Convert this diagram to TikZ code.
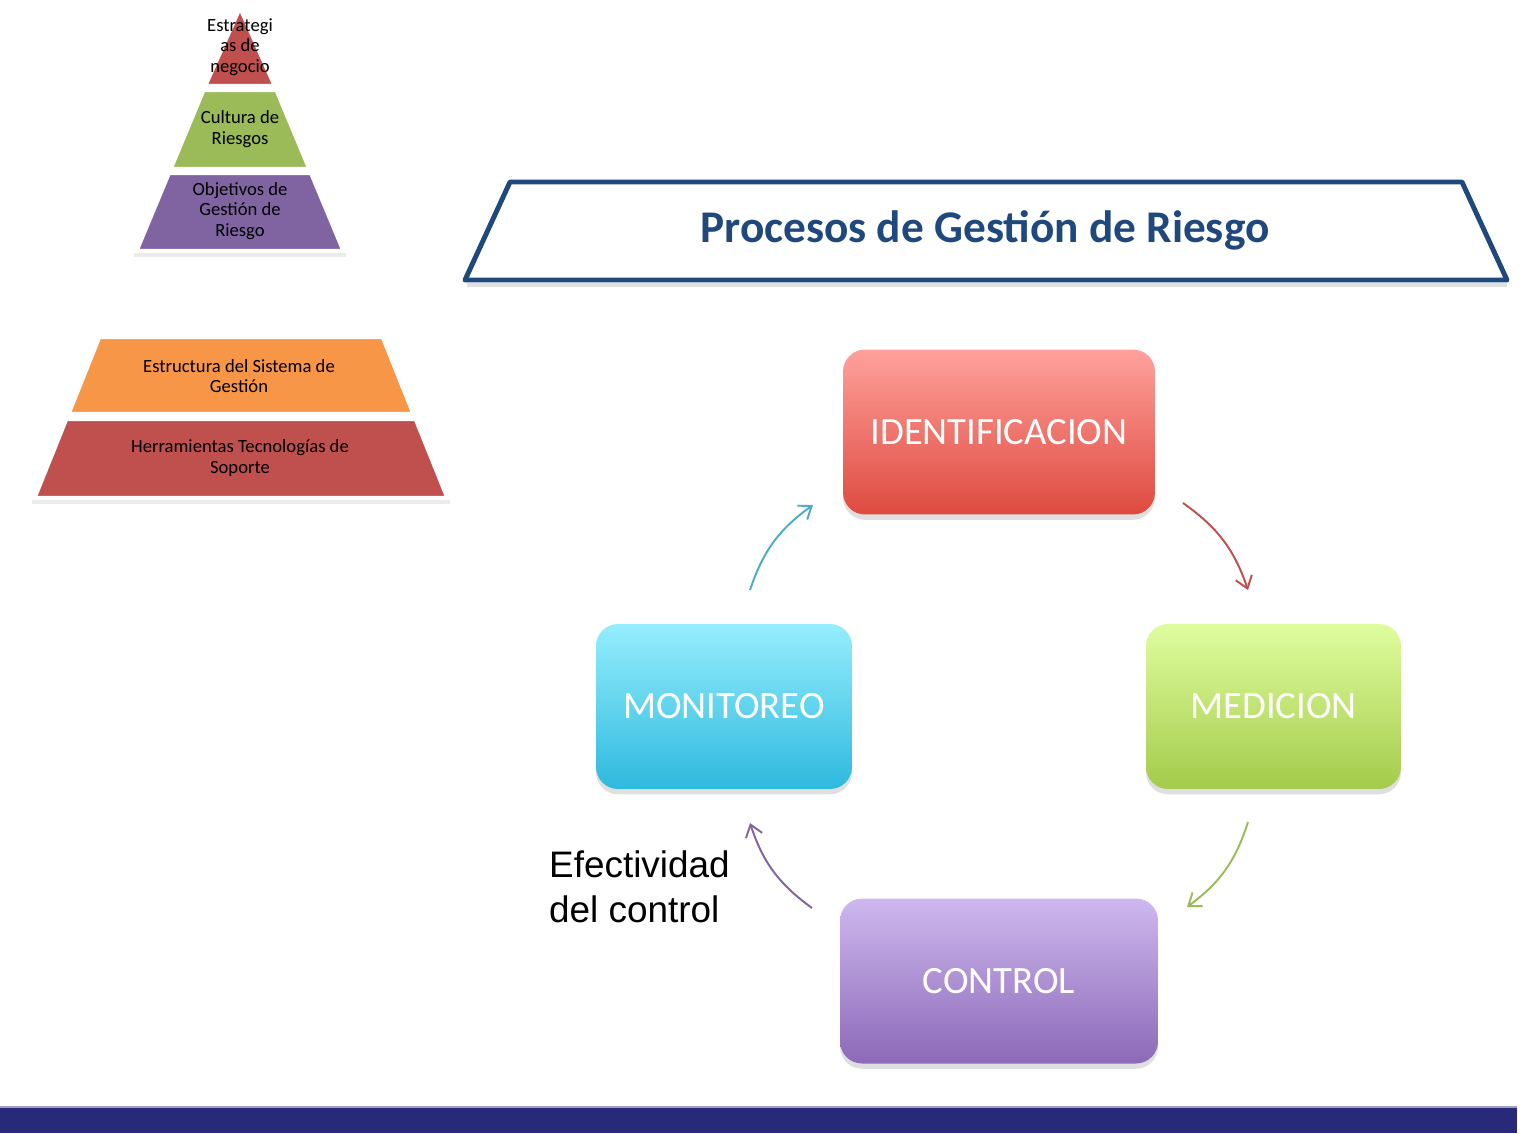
\documentclass[tikz,border=0pt]{standalone}
\usepackage{fontspec}
\setmainfont{Carlito}
\newfontfamily\arialfont{Liberation Sans}
\usetikzlibrary{positioning}
\usetikzlibrary{arrows.meta, shadows}

\definecolor{rojoCapa}{HTML}{C0504D}
\definecolor{verdeCapa}{HTML}{9BBB59}
\definecolor{moradoCapa}{HTML}{8064A2}
\definecolor{naranjaCapa}{HTML}{F79646}
\definecolor{azulTitulo}{HTML}{1F497D}
\definecolor{azulBarra}{HTML}{29297A}
\definecolor{cianFlecha}{HTML}{4BACC6}
\definecolor{idTop}{HTML}{FFA19C}
\definecolor{idBot}{HTML}{DE4A3F}
\definecolor{medTop}{HTML}{DFFD9F}
\definecolor{medBot}{HTML}{A4CB4A}
\definecolor{monTop}{HTML}{95EEFD}
\definecolor{monBot}{HTML}{2EB9DE}
\definecolor{conTop}{HTML}{CEB8EF}
\definecolor{conBot}{HTML}{8C69B7}

\begin{document}
\begin{tikzpicture}[x=0.02cm,y=-0.02cm,
  paso/.style={rounded corners=0.44cm,minimum height=3.3cm,text=white,
    font=\fontsize{22}{26}\selectfont,
    drop shadow={shadow xshift=0pt,shadow yshift=-3pt,opacity=0.25}},
  capa/.style={draw=white,line width=1.2pt},
  capatxt/.style={align=center,text=black,font=\fontsize{10.6}{11.6}\selectfont},
  ciclo/.style={line width=1.1pt,bend left=18,
    -{Straight Barb[length=0.23cm,width=0.34cm]}}
]
\useasboundingbox (0,0) rectangle (1531,1133);
\fill[white] (0,0) rectangle (1531,1133);

% piramide de arriba
\draw[black!8,line width=2pt] (134,255) -- (346,255);
\draw[capa,fill=rojoCapa] (240,10) -- (273.3,85) -- (206.7,85) -- cycle;
\draw[capa,fill=verdeCapa] (204.2,91) -- (275.8,91) -- (307.9,168) -- (172.1,168) -- cycle;
\draw[capa,fill=moradoCapa] (169.6,174) -- (310.4,174) -- (342,250) -- (138,250) -- cycle;
\node[capatxt] (estrategias) at (240,47) {Estrategi\\as de\\negocio};
\node[capatxt] (cultura) at (240,129) {Cultura de\\Riesgos};
\node[capatxt] (objetivos) at (240,211) {Objetivos de\\Gestión de\\Riesgo};

% piramide de abajo
\draw[black!8,line width=2pt] (32,502) -- (450,502);
\draw[capa,fill=naranjaCapa] (100,338) -- (382,338) -- (412,413) -- (70,413) -- cycle;
\draw[capa,fill=rojoCapa] (67,420) -- (415,420) -- (446,497) -- (36,497) -- cycle;
\node[capatxt] (estructura) at (239,376) {Estructura del Sistema de\\Gestión};
\node[capatxt] (herramientas) at (240,458) {Herramientas Tecnologías de\\Soporte};

% titulo
\draw[black!12,line width=2pt] (467,285) -- (1507,285);
\draw[azulTitulo,line width=2.8pt,line join=round] (510,182) -- (1462,182) -- (1507,280) -- (465,280) -- cycle;
\node[text=azulTitulo,font=\bfseries\fontsize{25.8}{30}\selectfont] (titulo) at (985,230) {Procesos de Gestión de Riesgo};

% ciclo
\node[paso,minimum width=6.24cm,top color=idTop,bottom color=idBot] (ident) at (999,432) {IDENTIFICACION};
\node[paso,minimum width=5.1cm,top color=medTop,bottom color=medBot] (medicion) at (1273.5,706.5) {MEDICION};
\node[paso,minimum width=5.12cm,top color=monTop,bottom color=monBot] (monitoreo) at (724,706.5) {MONITOREO};
\node[paso,minimum width=6.36cm,top color=conTop,bottom color=conBot] (control) at (999,981) {CONTROL};

\coordinate (mon-sal) at (750,590);
\coordinate (id-ent) at (813,505);
\coordinate (id-sal) at (1183,503);
\coordinate (med-ent) at (1248,590);
\coordinate (med-sal) at (1248,822);
\coordinate (con-ent) at (1187,907);
\coordinate (con-sal) at (812,908);
\coordinate (mon-ent) at (750,823);
\draw[ciclo,cianFlecha] (mon-sal) to (id-ent);
\draw[ciclo,rojoCapa] (id-sal) to (med-ent);
\draw[ciclo,verdeCapa] (med-sal) to (con-ent);
\draw[ciclo,moradoCapa] (con-sal) to (mon-ent);

\node[anchor=north west,align=left,font=\arialfont\fontsize{21}{25.5}\selectfont] (efectividad) at (543,845) {Efectividad\\del control};

% barra de abajo
\fill[azulBarra] (0,1107) rectangle (1517,1133);
\draw[azulBarra!45,line width=0.6pt] (0,1107) -- (1517,1107);
\end{tikzpicture}
\end{document}
